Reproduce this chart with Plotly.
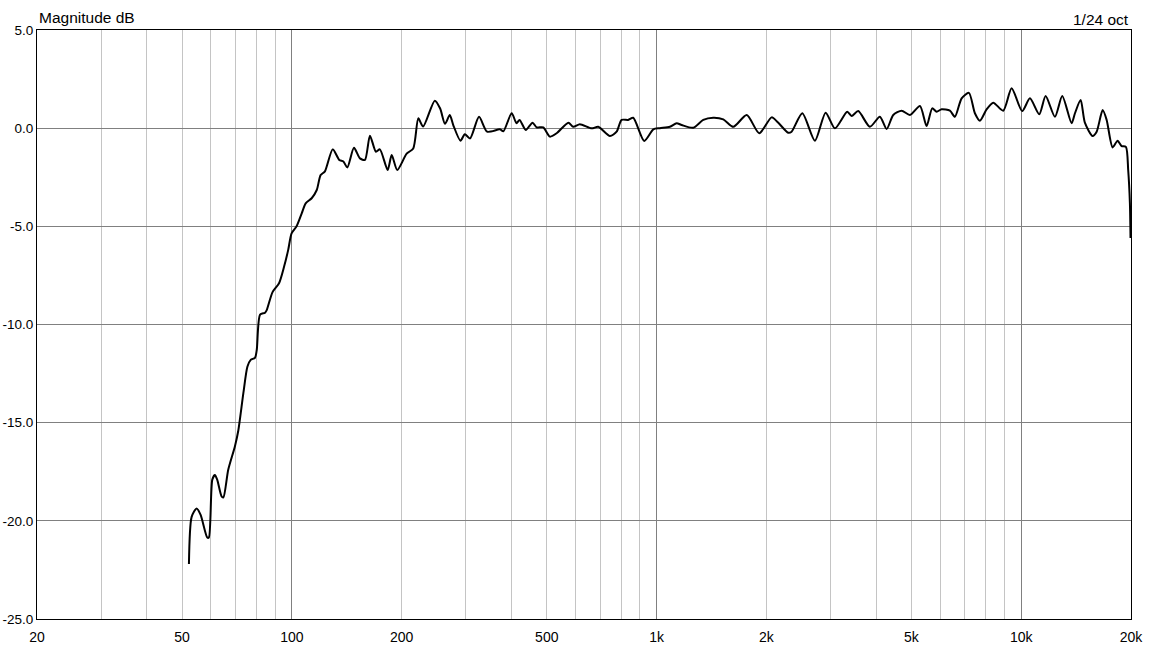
import plotly.graph_objects as go

# Frequency response
freq_hz = [52.2, 53.1, 54.8, 56.2, 58.6, 59.2, 60.5, 61.5, 62.4, 64.2, 64.9, 66.9, 69.8, 71.3,
           73.6, 75.5, 77.1, 79.2, 80.1, 81.8, 84.4, 85.3, 88.5, 92.2, 95.2, 97.7, 99.8, 103,
           106.4, 109.1, 113.3, 117, 119.9, 123.2, 129.4, 134.9, 138.4, 141.9, 148, 153.7,
           158.6, 163.7, 170, 174.3, 183.1, 187.8, 194.5, 206.4, 215.2, 222.2, 229, 246.5,
           255, 263, 271, 277, 290, 298, 308, 326, 343, 372, 380, 400.6, 413, 421, 438, 457,
           469, 489, 510, 532, 573, 591, 616, 664, 692, 745, 777, 802, 836, 863, 925, 980,
           1021, 1088, 1135, 1172, 1261, 1343, 1430, 1524, 1624, 1767, 1913, 2068, 2150,
           2296, 2346, 2510, 2718, 2908, 3084, 3333, 3427, 3573, 3846, 4096, 4276, 4457,
           4699, 4952, 5276, 5502, 5701, 5862, 6048, 6375, 6578, 6864, 7188, 7464, 7704,
           8036, 8380, 8925, 9412, 10062, 10565, 11204, 11666, 12372, 12958, 13745, 14040,
           14553, 14946, 15696, 16100, 16724, 17150, 17806, 18380, 18848, 19366, 19648,
           19860, 19940]
magnitude_db = [-22.2, -19.8, -19.37, -19.7, -20.85, -20.85, -17.9, -17.67, -17.9, -18.77, -18.8,
                -17.4, -16.2, -15.4, -13.5, -12.15, -11.8, -11.7, -11.3, -9.5, -9.4, -9.27,
                -8.35, -7.9, -7.05, -6.2, -5.36, -5.0, -4.34, -3.83, -3.57, -3.15, -2.39, -2.2,
                -1.08, -1.62, -1.7, -2.0, -1.0, -1.54, -1.62, -0.38, -1.2, -1.08, -2.13, -1.37,
                -2.13, -1.3, -1.03, 0.5, 0.08, 1.4, 1.0, 0.22, 0.67, 0.16, -0.64, -0.31, -0.52,
                0.58, -0.18, -0.06, -0.16, 0.76, 0.25, 0.42, -0.09, 0.28, 0.04, 0.04, -0.43,
                -0.26, 0.28, 0.07, 0.2, -0.01, 0.07, -0.4, -0.18, 0.42, 0.42, 0.53, -0.65,
                -0.06, 0.0, 0.07, 0.25, 0.16, 0.02, 0.42, 0.53, 0.45, 0.07, 0.67, -0.26, 0.55,
                0.3, -0.23, -0.18, 0.76, -0.64, 0.79, -0.01, 0.84, 0.62, 0.87, 0.07, 0.58,
                -0.04, 0.67, 0.89, 0.67, 1.13, 0.11, 1.01, 0.84, 0.96, 0.89, 0.58, 1.52, 1.8,
                0.76, 0.38, 0.96, 1.3, 0.89, 2.03, 0.87, 1.52, 0.71, 1.64, 0.58, 1.64, 0.25,
                0.76, 1.43, 0.28, -0.4, -0.18, 0.92, 0.42, -0.98, -0.64, -0.91, -0.95, -2.13,
                -3.8, -5.6]

x_tick_vals = [20, 50, 100, 200, 500, 1000, 2000, 5000, 10000, 20000]
x_tick_text = ["20", "50", "100", "200", "500", "1k", "2k", "5k", "10k", "20k"]
x_minor_grid = [30, 40, 50, 60, 70, 80, 90, 200, 300, 400, 500, 600, 700, 800, 900,
                2000, 3000, 4000, 5000, 6000, 7000, 8000, 9000]
x_decade_grid = [100, 1000, 10000]
y_tick_vals = [-25, -20, -15, -10, -5, 0, 5]
y_tick_text = ["-25.0", "-20.0", "-15.0", "-10.0", "-5.0", "0.0", "5.0"]

FONT = "Liberation Sans, Arial, sans-serif"
LIGHT = "#c4c4c4"
DARK = "#808080"

fig = go.Figure()
fig.add_trace(go.Scatter(x=freq_hz, y=magnitude_db, mode="lines",
                         line=dict(color="black", width=2, shape="spline", smoothing=0.7),
                         hoverinfo="x+y", showlegend=False))
# invisible trace on overlay axis to activate it
fig.add_trace(go.Scatter(x=[20, 20000], y=[-25, 5], mode="lines", xaxis="x2",
                         line=dict(width=0), opacity=0, showlegend=False, hoverinfo="skip"))

fig.update_layout(
    width=1154, height=662,
    margin=dict(l=37, r=23, t=30, b=43, autoexpand=False),
    paper_bgcolor="white", plot_bgcolor="white",
    font=dict(family=FONT, size=14, color="black"),
    xaxis=dict(type="log", range=[1.30103, 4.30103], tickvals=x_tick_vals, ticktext=x_tick_text,
               showgrid=False, zeroline=False, ticks="", ticklabelstandoff=5, automargin=False,
               showline=True, linecolor="black", linewidth=1, mirror=True,
               minor=dict(tickvals=x_minor_grid, showgrid=True, gridcolor=LIGHT, gridwidth=1, ticks="")),
    xaxis2=dict(type="log", range=[1.30103, 4.30103], overlaying="x", side="bottom",
                tickvals=x_decade_grid, showticklabels=False, showgrid=True, gridcolor=DARK,
                gridwidth=1, zeroline=False, ticks="", showline=False, automargin=False),
    yaxis=dict(range=[-25, 5], tickvals=y_tick_vals, ticktext=y_tick_text, showgrid=True,
               gridcolor=DARK, gridwidth=1, zeroline=False, ticks="", ticklabelstandoff=0,
               automargin=False, tickfont=dict(size=13.5),
               showline=True, linecolor="black", linewidth=1, mirror=True),
    annotations=[
        dict(text="Magnitude dB", xref="paper", yref="paper", x=0, y=1, xanchor="left",
             yanchor="middle", yshift=13, showarrow=False, font=dict(family=FONT, size=15.5)),
        dict(text="1/24 oct", xref="paper", yref="paper", x=1, y=1, xanchor="right",
             yanchor="middle", yshift=11, showarrow=False, font=dict(family=FONT, size=15.5)),
    ],
)

fig.write_html("out.html", config={"displayModeBar": False},
               post_script="document.body.style.margin='0';document.body.style.padding='0';")
